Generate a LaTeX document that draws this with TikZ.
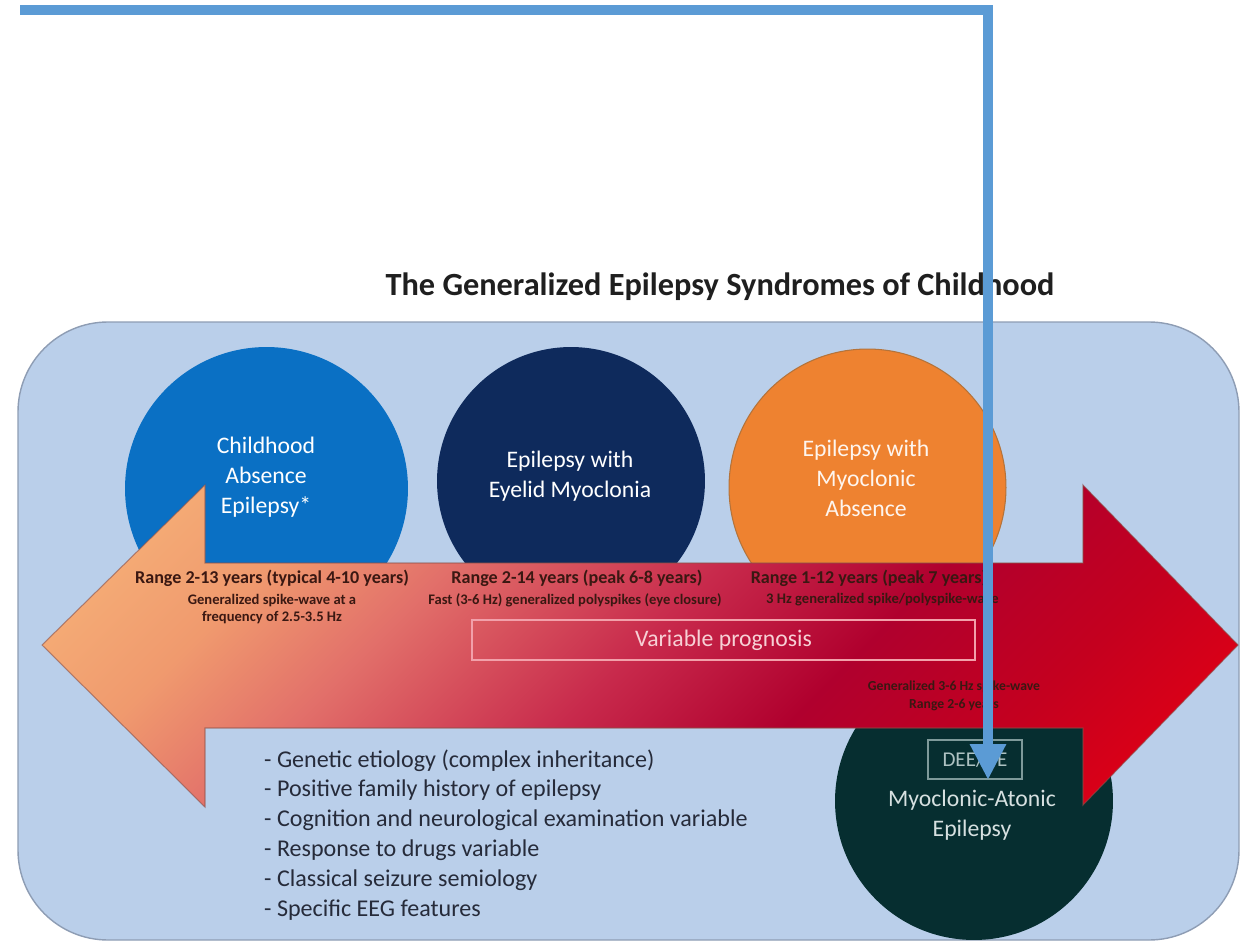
\documentclass[tikz,border=0pt]{standalone}
\usepackage{fontspec}
\setmainfont{Carlito}
\usetikzlibrary{arrows.meta}

% palette
\definecolor{panelfill}{HTML}{BACFEA}
\definecolor{panelline}{HTML}{8E9DB4}
\definecolor{caeblue}{HTML}{0A70C4}
\definecolor{emnavy}{HTML}{0E2A5C}
\definecolor{maorange}{HTML}{EE8230}
\definecolor{maedge}{HTML}{B4733A}
\definecolor{mateal}{HTML}{062E30}
\definecolor{linkblue}{HTML}{5B9BD5}
\definecolor{inktext}{HTML}{3A1812}
\definecolor{listtext}{HTML}{262B3A}
\definecolor{progline}{HTML}{F2A0AA}
\definecolor{progtext}{HTML}{F7D0D5}
\definecolor{deeline}{HTML}{7E9A9A}
\definecolor{deetext}{HTML}{AEC2C2}
\definecolor{matext}{HTML}{D6E0E0}
\definecolor{arrowedge}{HTML}{8A5048}
\definecolor{sh0}{HTML}{F8BA7C}
\definecolor{sh1}{HTML}{F09A6E}
\definecolor{sh2}{HTML}{E2706A}
\definecolor{sh3}{HTML}{C82A4C}
\definecolor{sh4}{HTML}{B0002E}
\definecolor{sh5}{HTML}{C4001F}
\definecolor{sh6}{HTML}{EE0010}

% peach-to-red ramp for the double arrow
\pgfdeclarehorizontalshading{spectrum}{100bp}{%
  color(0bp)=(sh0); color(14.6bp)=(sh0); color(28.8bp)=(sh1);
  color(37.3bp)=(sh2); color(50bp)=(sh3); color(60.6bp)=(sh4);
  color(71.2bp)=(sh5); color(85.4bp)=(sh6); color(100bp)=(sh6)}

\tikzset{
  disc/.style={circle, inner sep=0pt},
  ctext/.style={align=center, text=white, font=\fontsize{13.5}{17}\selectfont},
  rangetext/.style={text=inktext, font=\bfseries\fontsize{10.3}{12}\selectfont},
  eegtext/.style={align=center, text=inktext, font=\bfseries\fontsize{8.3}{9.6}\selectfont},
  listitem/.style={anchor=west, text=listtext, font=\fontsize{13.7}{16}\selectfont},
  link/.style={draw=linkblue, line width=0.2cm, line join=miter,
    -{Triangle[width=0.68cm, length=0.72cm]}},
}

\begin{document}
\begin{tikzpicture}[x=0.02cm, y=-0.02cm]
\useasboundingbox (0,0) rectangle (1242,943);

% heading
\node[font=\bfseries\fontsize{18.4}{22}\selectfont, text=black!88] (title)
  at (720,287) {The Generalized Epilepsy Syndromes of Childhood};

% rounded panel
\draw[fill=panelfill, draw=panelline, line width=0.8pt, rounded corners=1.8cm]
  (18,322) rectangle (1239,940);

% syndrome discs
\node[disc, minimum size=5.66cm, fill=caeblue] (cae) at (266.5,488.5) {};
\node[disc, minimum size=5.36cm, fill=emnavy] (eem) at (571,481) {};
\node[disc, minimum size=5.54cm, fill=maorange, draw=maedge, line width=0.6pt] (ema) at (867.5,487.5) {};
\node[disc, minimum size=5.56cm, fill=mateal] (mae) at (974,801) {};

% double-headed band
\shadedraw[shading=spectrum, shading angle=-45, draw=arrowedge, draw opacity=0.6, line width=0.6pt]
  (42,645) -- (205,485) -- (205,563) -- (1083,563) -- (1083,485) -- (1238,645)
  -- (1083,805) -- (1083,728) -- (205,728) -- (205,807) -- cycle;

% disc titles
\node[ctext] (caelbl) at (266,477) {Childhood\\Absence\\Epilepsy*};
\node[ctext] (eemlbl) at (570,476) {Epilepsy with\\Eyelid Myoclonia};
\node[ctext, text=white!92!maorange] (emalbl) at (866,478) {Epilepsy with\\Myoclonic\\Absence};
\node[ctext, text=matext] (maelbl) at (972,815) {Myoclonic-Atonic\\Epilepsy};
\node[draw=deeline, line width=1pt, minimum width=1.88cm, minimum height=0.78cm,
  text=deetext, font=\fontsize{12}{14}\selectfont] (dee) at (975,759.5) {DEE/DE};

% onset ranges and EEG
\node[rangetext] (r1) at (272,578) {Range 2-13 years (typical 4-10 years)};
\node[rangetext] (r2) at (577,578) {Range 2-14 years (peak 6-8 years)};
\node[rangetext] (r3) at (869,578) {Range 1-12 years (peak 7 years)};
\node[eegtext] (e1) at (272,609) {Generalized spike-wave at a\\frequency of 2.5-3.5 Hz};
\node[eegtext] (e2) at (575,600) {Fast (3-6 Hz) generalized polyspikes (eye closure)};
\node[eegtext, anchor=west] (e3) at (760,600) {3 Hz generalized spike/polyspike-wave};
\node[eegtext, font=\bfseries\fontsize{7.8}{10.5}\selectfont] (e4) at (954,696) {Generalized 3-6 Hz spike-wave\\Range 2-6 years};

% prognosis box
\node[draw=progline, line width=1pt, minimum width=10.06cm, minimum height=0.8cm,
  text=progtext, font=\fontsize{13.5}{16}\selectfont] (prog) at (723.5,640) {Variable prognosis};

% shared features
\node[listitem] (f1) at (258,761) {- Genetic etiology (complex inheritance)};
\node[listitem] (f2) at (258,790) {- Positive family history of epilepsy};
\node[listitem] (f3) at (258,820) {- Cognition and neurological examination variable};
\node[listitem] (f4) at (258,850) {- Response to drugs variable};
\node[listitem] (f5) at (258,880) {- Classical seizure semiology};
\node[listitem] (f6) at (258,910) {- Specific EEG features};

% overlaid connector
\coordinate (origin) at (20,10);
\coordinate (target) at (988,780);
\draw[link] (origin) -| (target);
\end{tikzpicture}
\end{document}
